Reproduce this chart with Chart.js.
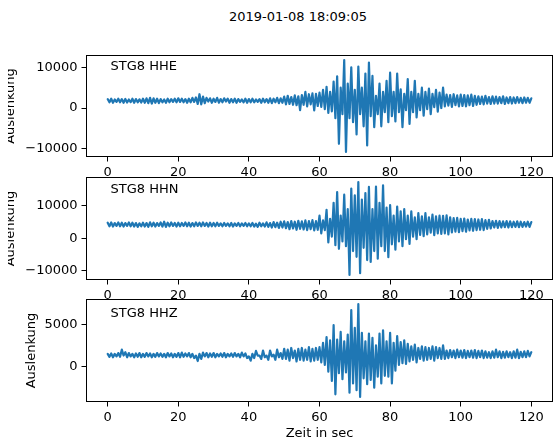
<!DOCTYPE html>
<html>
<head>
<meta charset="utf-8">
<script src="https://cdn.jsdelivr.net/npm/chart.js@4/dist/chart.umd.min.js"></script>
<style>
    body { margin: 0; background: #fff; width: 554px; height: 447px; position: relative; overflow: hidden; font-family: 'DejaVu Sans'; }
    canvas { position: absolute; left: 0; }
    #title { position: absolute; left: 298px; top: 9px; transform: translateX(-50%); font-size: 13px; line-height: 15px; color: #000; white-space: nowrap; }
</style>
</head>
<body>
<div id="title">2019-01-08 18:09:05</div>
<canvas id="c0" width="554" height="142" style="top:40px"></canvas>
<canvas id="c1" width="554" height="142" style="top:162px"></canvas>
<canvas id="c2" width="554" height="163" style="top:284px"></canvas>
<script>
// sampling step of the listed values (sec)
const dt = 0.5;
const xTicks = [0, 20, 40, 60, 80, 100, 120];
const channelNames = ['STG8 HHE', 'STG8 HHN', 'STG8 HHZ'];
const yLabel = 'Auslenkung';
const xLabel = 'Zeit in sec';

// one value every 0.5 s from 0 to 120 s
const hhe = [
    2200,1400,2300,1300,2100,1500,2300,1400,2200,1300,
    2250,1350,2100,1450,2300,1300,2200,1400,2150,1350,
    2300,1300,2400,1200,2500,1100,2400,1300,2300,1200,
    2200,1400,2100,1300,2300,1400,2200,1500,2300,1400,
    2400,1500,2300,1400,2200,1300,2300,1400,2500,1500,
    2600,1000,3400,900,2800,1200,2500,1600,2400,1300,
    2300,1500,2500,1300,2200,1400,2400,1600,2300,1300,
    2200,1400,2300,1300,2200,1500,2100,1400,2300,1300,
    2200,1400,2300,1400,2100,1500,2200,1300,2300,1400,
    2200,1300,2400,1200,2300,1400,2500,1200,2400,1300,
    2800,900,3000,1000,2700,800,3100,700,2900,-500,
    3200,800,4000,400,3400,900,3600,-600,3500,500,
    3800,300,4500,-300,5200,-1200,4000,-800,6500,-2500,
    7800,-8800,5000,-1500,11800,-10800,6000,-2500,10000,-3500,
    4500,-6500,10200,-1500,5000,-4500,8500,-9200,11200,-2000,
    7900,-4700,3000,-1500,6000,-4500,4000,-1000,6700,-3500,
    8700,-2000,4000,-3300,8500,-1000,4600,-4700,3500,-500,
    7100,-3900,4000,-1000,6700,-2300,3500,-500,5000,-1900,
    4000,-300,4800,-1500,3500,200,4500,-900,3800,0,
    5000,400,3300,600,3200,300,3400,700,3100,400,
    3300,500,3200,400,3100,700,3300,500,3000,800,
    2900,1000,2800,900,3000,1100,2700,1000,2900,1100,
    2800,1100,2700,1200,2900,1000,2600,1200,2700,1100,
    2600,1200,2700,1300,2500,1200,2600,1300,2500,1300,
    2400
];
const hhn = [
    4800,3700,4900,3600,4700,3800,4900,3700,4800,3600,
    4700,3800,4900,3700,4800,3600,4700,3500,4600,3700,
    4800,3600,4700,3500,4900,3700,4800,3600,4700,3800,
    4900,3600,5100,3500,4800,3700,4900,3800,4700,3600,
    4800,3700,4700,3800,4900,3700,4800,3600,4700,3700,
    4900,3800,4800,3700,4900,3800,4700,3600,4800,3700,
    4700,3700,4800,3800,4600,3700,4700,3800,4600,3700,
    4700,3600,4600,3800,4700,3700,4600,3800,4700,3700,
    4600,3700,4700,3600,4500,3500,4800,3700,4600,3600,
    4900,3500,4700,3300,5000,3400,4800,3200,5100,3300,
    5200,3100,5000,2800,5300,3000,5100,2600,5400,2900,
    5200,2700,5500,2500,5300,2800,5600,2400,5300,2600,
    7000,1500,5500,2500,8800,-1300,6000,500,11000,-2200,
    14300,-3300,7000,-1000,13500,-2500,9000,-11400,15400,-4000,
    13300,-5800,17400,-10900,12000,-3000,14000,-6800,15900,-7400,
    9000,-4000,16000,-6400,11000,-2500,16400,-4000,9500,-5900,
    10300,-1900,7000,-3600,9800,-1000,8300,-2500,9000,-300,
    7000,-1800,8300,500,6500,-300,7800,1000,6800,600,
    7800,1200,6500,1700,7300,900,6800,1500,7000,1300,
    6900,1500,7100,1200,6500,1800,6200,2000,6300,1900,
    6000,2200,6100,2000,5800,2400,6000,2300,5900,2500,
    5800,2600,5900,2500,5600,2900,5700,3000,5300,3300,
    5400,3200,5300,3300,5200,3400,5300,3300,5200,3400,
    5100,3500,5200,3400,5100,3500,5000,3600,5100,3500,
    5000
];
const hhz = [
    1500,1150,1550,1100,1500,1200,1600,1150,2000,1300,
    1700,1100,1600,1200,1500,1100,1550,1150,1600,1100,
    1500,1150,1600,1200,1550,1100,1500,1150,1600,1200,
    1550,1150,1500,1100,1600,1200,1550,1100,1500,1150,
    1600,1100,1650,1150,1550,1200,1600,1100,1500,1000,
    1300,650,1500,900,1650,1200,1600,1100,1550,1150,
    1600,1100,1500,1200,1550,1150,1600,1100,1500,1200,
    1550,1150,1600,1200,1500,1100,1650,1200,1550,1000,
    1200,700,1500,1000,1850,1300,1300,900,1900,1100,
    1300,800,1900,1200,1400,800,2000,1100,1600,900,
    2100,900,2000,700,2200,1000,1900,600,2100,800,
    2200,700,2000,800,2300,600,2100,700,2200,800,
    2300,500,2800,200,3500,-600,3100,-1700,4900,-3300,
    3200,-800,4100,-1500,3000,-700,3800,-3100,6700,-2000,
    4600,-2800,7400,-3600,4000,-1400,3000,-2100,3900,-1600,
    3400,-2500,2500,-1200,3900,-2000,4300,-1100,3000,-1200,
    4000,-2000,2800,-500,3600,200,2900,400,3100,300,
    2700,600,2400,800,2600,500,2200,900,2400,700,
    2300,800,2200,900,2400,700,2300,1000,2200,900,
    2500,900,1900,1000,1950,1100,1900,1000,2000,1100,
    1900,1050,1950,1000,1850,1100,1900,1050,1950,1000,
    1850,1100,1900,1000,1800,1050,1700,1000,1800,1050,
    2000,1100,1800,1000,1750,1050,1800,1100,1700,1000,
    1800,1050,2000,1000,1750,1100,1800,1100,1850,1200,
    1700
];
const yTicksHHE = [-10000, 0, 10000];
const yTicksHHN = [-10000, 0, 10000];
const yTicksHHZ = [0, 5000];

Chart.defaults.font.family = 'DejaVu Sans';
Chart.defaults.font.size = 13;
Chart.defaults.color = '#000';

// like matplotlib: 5% margin around the data
function padRange(arr) {
    let lo = Math.min(...arr), hi = Math.max(...arr);
    let m = (hi - lo) * 0.05;
    return [lo - m, hi + m];
}
const fmt = v => (v < 0 ? '\u2212' + Math.abs(v) : String(v));

const framePlugin = {
    id: 'frame',
    afterDraw(chart, args, o) {
        const {ctx, chartArea: a} = chart;
        ctx.save();
        ctx.strokeStyle = '#000';
        ctx.lineWidth = 1;
        ctx.strokeRect(a.left, a.top, a.right - a.left, a.bottom - a.top);
        ctx.fillStyle = '#000';
        ctx.font = '13px "DejaVu Sans"';
        ctx.textBaseline = 'alphabetic';
        ctx.textAlign = 'left';
        ctx.fillText(o.name, a.left + 24, a.top + o.nameDy);
        ctx.beginPath();
        ctx.rect(o.clipX, 0, chart.width, chart.height);
        ctx.clip();
        ctx.translate(o.labelX, (a.top + a.bottom) / 2);
        ctx.rotate(-Math.PI / 2);
        ctx.textAlign = 'center';
        ctx.fillText(yLabel, 0, 0);
        ctx.restore();
    }
};

function makeChart(id, values, yTicks, p) {
    let range = padRange(values);
    let pts = values.map((v, i) => ({x: i * dt, y: v}));
    return new Chart(document.getElementById(id), {
        type: 'line',
        data: { datasets: [{ data: pts, borderColor: '#1f77b4', borderWidth: 2.2, borderJoinStyle: 'round', borderCapStyle: 'round', pointRadius: 0, tension: 0, fill: false }] },
        options: {
            responsive: false,
            animation: false,
            events: [],
            layout: { padding: { left: 0, right: 1.5, top: p.padTop, bottom: 0 } },
            plugins: { legend: { display: false }, tooltip: { enabled: false }, frame: p },
            scales: {
                x: {
                    type: 'linear', min: -6, max: 126,
                    afterBuildTicks: s => { s.ticks = xTicks.map(v => ({value: v})); },
                    afterFit: s => { s.height = p.axisH; },
                    grid: { drawOnChartArea: false, tickLength: 5, color: '#000' },
                    border: { display: false },
                    ticks: { padding: 3, maxRotation: 0, autoSkip: false, color: '#000' },
                    title: p.xTitle ? { display: true, text: xLabel, color: '#000', padding: { top: 0, bottom: 6 } } : { display: false }
                },
                y: {
                    type: 'linear', min: range[0], max: range[1],
                    afterBuildTicks: s => { s.ticks = yTicks.map(v => ({value: v})); },
                    afterFit: s => { s.width = 86.5; },
                    grid: { drawOnChartArea: false, tickLength: 5, color: '#000' },
                    border: { display: false },
                    ticks: { padding: 4, color: '#000', callback: v => fmt(v) }
                }
            }
        },
        plugins: [framePlugin]
    });
}

makeChart('c0', hhe, yTicksHHE, { name: channelNames[0], padTop: 15.5, axisH: 25.5, nameDy: 14.5, labelX: 13.5, clipX: 8 });
makeChart('c1', hhn, yTicksHHN, { name: channelNames[1], padTop: 15.5, axisH: 24.5, nameDy: 15.2, labelX: 13.5, clipX: 8 });
makeChart('c2', hhz, yTicksHHZ, { name: channelNames[2], padTop: 15.5, axisH: 45.5, nameDy: 17.5, labelX: 34.5, clipX: 0, xTitle: true });
</script>
</body>
</html>
